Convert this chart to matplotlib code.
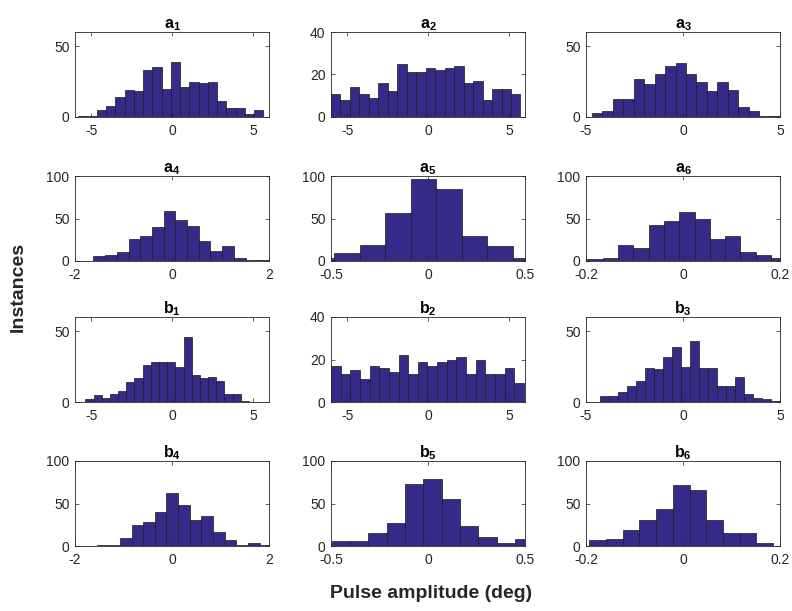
import numpy as np
import matplotlib
matplotlib.use('Agg')
import matplotlib.pyplot as plt

plt.rcParams['font.family'] = ['Liberation Sans', 'DejaVu Sans']
plt.rcParams['mathtext.fontset'] = 'custom'
plt.rcParams['mathtext.rm'] = 'Liberation Sans'
plt.rcParams['mathtext.bf'] = 'Liberation Sans:bold'
plt.rcParams['axes.unicode_minus'] = False

# histogram counts per panel, bin range (lo, hi) split evenly into len(counts) bins
names = ['a_1', 'a_2', 'a_3', 'a_4', 'a_5', 'a_6',
         'b_1', 'b_2', 'b_3', 'b_4', 'b_5', 'b_6']

a1_counts = [1, 1, 5, 8, 14, 19, 18, 33, 35, 20, 39, 21, 25, 24, 25, 11, 6, 6, 2, 5]
a2_counts = [11, 8, 14, 11, 9, 16, 12, 25, 21, 21, 23, 22, 23, 24, 16, 17, 8, 13, 13, 11]
a3_counts = [3, 4, 13, 13, 27, 23, 30, 36, 38, 30, 25, 18, 25, 19, 7, 4, 1, 1]
a4_counts = [6, 7, 11, 26, 30, 40, 59, 48, 41, 24, 12, 18, 4, 1, 1]
a5_counts = [3, 9, 19, 56, 96, 85, 30, 18, 3]
a6_counts = [2, 3, 19, 15, 42, 47, 58, 50, 26, 30, 11, 7, 3]
b1_counts = [2, 5, 3, 6, 8, 14, 17, 26, 28, 28, 28, 25, 46, 19, 17, 18, 15, 6, 6, 1]
b2_counts = [17, 13, 15, 11, 17, 16, 14, 22, 13, 19, 17, 19, 20, 21, 13, 20, 13, 13, 16, 9]
b3_counts = [4, 4, 7, 11, 15, 24, 23, 32, 39, 25, 43, 24, 24, 11, 11, 18, 6, 3, 2, 1]
b4_counts = [0, 0, 1, 1, 10, 25, 28, 40, 62, 48, 31, 35, 16, 7, 1, 3, 1]
b5_counts = [6, 6, 15, 27, 73, 79, 55, 23, 11, 4, 8]
b6_counts = [7, 8, 19, 31, 44, 72, 66, 31, 15, 15, 4]

counts = [a1_counts, a2_counts, a3_counts, a4_counts, a5_counts, a6_counts,
          b1_counts, b2_counts, b3_counts, b4_counts, b5_counts, b6_counts]

bin_ranges = [(-5.80, 5.65), (-6.0, 5.72), (-4.69, 5.0), (-1.62, 2.0), (-0.615, 0.570), (-0.197, 0.213),
              (-5.36, 4.76), (-6.0, 5.93), (-4.257, 5.0), (-2.034, 2.046), (-0.497, 0.5425), (-0.1931, 0.1855)]

x_limits = [6, 6, 5, 2, 0.5, 0.2] * 2
x_ticks = [[-5, 0, 5], [-5, 0, 5], [-5, 0, 5], [-2, 0, 2], [-0.5, 0, 0.5], [-0.2, 0, 0.2]] * 2
y_limits = [60, 40, 60, 100, 100, 100] * 2
y_ticks = [[0, 50], [0, 20, 40], [0, 50], [0, 50, 100], [0, 50, 100], [0, 50, 100]] * 2

bar_color = '#352A87'
frame_color = '#262626'

fig = plt.figure(figsize=(7.92, 6.11), dpi=100)
W, H = 792, 611
col_left = [75, 331, 586]
ax_w = 194
row_top = [32, 176, 317, 461]
ax_h = 85

for i in range(12):
    r, c = divmod(i, 3)
    ax = fig.add_axes([col_left[c] / W, 1 - (row_top[r] + ax_h) / H, ax_w / W, ax_h / H])
    n = counts[i]
    edges = np.linspace(bin_ranges[i][0], bin_ranges[i][1], len(n) + 1)
    ax.bar(edges[:-1], n, width=np.diff(edges), align='edge',
           color=bar_color, edgecolor='#1a1a1a', linewidth=0.5)
    xl = x_limits[i]
    ax.set_xlim(-xl, xl)
    ax.set_ylim(0, y_limits[i])
    ax.set_xticks(x_ticks[i])
    ax.set_xticklabels([f'{t:g}' for t in x_ticks[i]])
    ax.set_yticks(y_ticks[i])
    ax.tick_params(direction='in', top=True, right=True, length=3, width=0.5,
                   labelsize=10, colors=frame_color)
    ax.tick_params(axis='x', pad=5)
    ax.tick_params(axis='y', pad=4)
    for s in ax.spines.values():
        s.set_color(frame_color)
        s.set_linewidth(0.6)
    letter, sub = names[i].split('_')
    ax.set_title(r'$\mathbf{%s}_\mathbf{%s}$' % (letter, sub), fontsize=11.5, pad=3)

fig.text(431 / W, 1 - 593 / H, 'Pulse amplitude (deg)', ha='center', va='center',
         fontsize=14, fontweight='bold', color=frame_color)
fig.text(18 / W, 1 - 287 / H, 'Instances', ha='center', va='center', rotation=90,
         fontsize=14, fontweight='bold', color=frame_color)

fig.savefig('out.png', dpi=100)
